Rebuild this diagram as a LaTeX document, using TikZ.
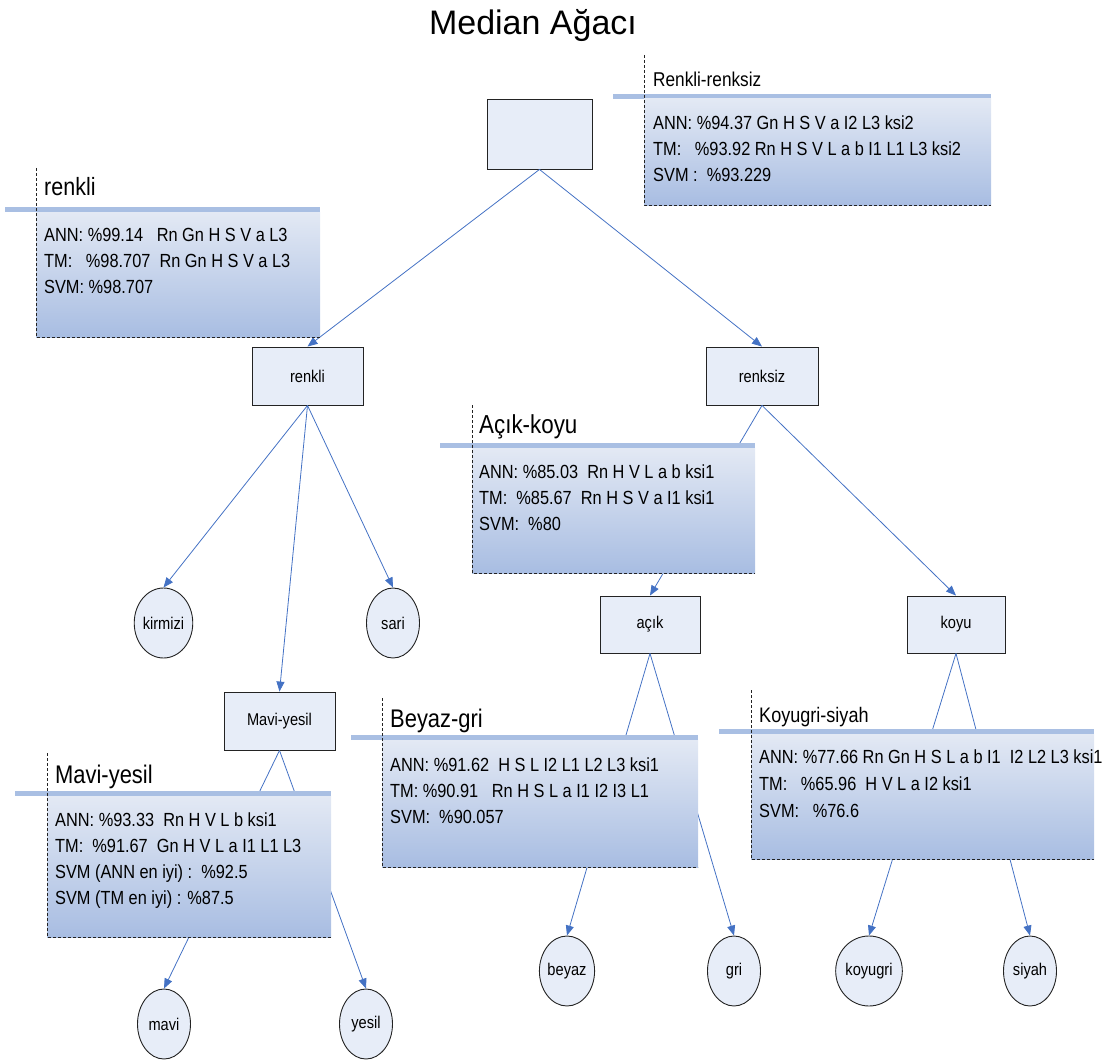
\documentclass[tikz,border=0pt]{standalone}
\usepackage{fontspec}
\setmainfont{Liberation Sans}[FakeStretch=0.86]
\newfontfamily\headfont{Liberation Sans}
\usetikzlibrary{arrows.meta,shapes.geometric}

\definecolor{linkblue}{RGB}{68,114,196}
\definecolor{boxfill}{RGB}{231,237,248}
\definecolor{boxline}{RGB}{35,35,35}
\definecolor{barblue}{RGB}{169,191,227}
\definecolor{shadetop}{RGB}{227,233,244}
\definecolor{shadebot}{RGB}{168,189,226}

% draws a callout panel: bar left, panel left, right, bar top, bottom, dash top
\newcommand\panelbox[6]{%
  \fill[barblue] (#1,#4) rectangle (#3,#4+5);
  \shade[top color=shadetop, bottom color=shadebot] (#2,#4+5) rectangle (#3,#5);
  \draw[panelrule] (#2,#6) -- (#2,#5) -- (#3,#5);
}

\begin{document}
\begin{tikzpicture}[x=1pt,y=-1pt,
  treebox/.style={draw=boxline, fill=boxfill, line width=0.9pt, rectangle,
    inner sep=0pt, font=\fontsize{17}{20}\selectfont},
  leaf/.style={draw=boxline, fill=boxfill, line width=0.9pt, ellipse,
    minimum width=53pt, minimum height=70pt, inner sep=0pt,
    font=\fontsize{17}{20}\selectfont},
  link/.style={draw=linkblue, line width=0.8pt,
    -{Triangle[length=10pt,width=8pt]}},
  panelrule/.style={draw=boxline, line width=0.9pt, dash pattern=on 3pt off 2pt},
  paneltitle/.style={anchor=base west, inner sep=0pt},
  panelline/.style={anchor=base west, inner sep=0pt,
    font=\fontsize{19}{23}\selectfont}]
\useasboundingbox (0,0) rectangle (1114,1062);

% tree nodes
\node[treebox, minimum width=105pt, minimum height=70pt] (root) at (539.5,134) {};
\node[treebox, minimum width=111pt, minimum height=58pt] (renkli) at (307.5,376) {renkli};
\node[treebox, minimum width=112pt, minimum height=58pt] (renksiz) at (762,376) {renksiz};
\node[treebox, minimum width=111pt, minimum height=58pt] (mavy) at (279.5,721) {Mavi-yesil};
\node[treebox, minimum width=100pt, minimum height=57pt] (acik) at (650,624.5) {açık};
\node[treebox, minimum width=98pt, minimum height=57pt] (koyu) at (956,624.5) {koyu};

\node[leaf] (kirmizi) at (163.5,623) {kirmizi};
\node[leaf] (sari) at (393,623) {sari};
\node[leaf] (mavi) at (164,1024) {mavi};
\node[leaf] (yesil) at (366,1024) {yesil};
\node[leaf] (beyaz) at (567,971) {beyaz};
\node[leaf] (gri) at (734,971) {gri};
\node[leaf] (koyugri) at (869,971) {koyugri};
\node[leaf] (siyah) at (1030,971) {siyah};

% connectors
\draw[link] (root.south) -- (renkli.north);
\draw[link] (root.south) -- (renksiz.north);
\draw[link] (renkli.south) -- (kirmizi.north);
\draw[link] (renkli.south) -- (mavy.north);
\draw[link] (renkli.south) -- (sari.north);
\draw[link] (renksiz.south) -- (acik.north);
\draw[link] (renksiz.south) -- (koyu.north);
\draw[link] (mavy.south) -- (mavi.north);
\draw[link] (mavy.south) -- (yesil.north);
\draw[link] (acik.south) -- (beyaz.north);
\draw[link] (acik.south) -- (gri.north);
\draw[link] (koyu.south) -- (koyugri.north);
\draw[link] (koyu.south) -- (siyah.north);

% result panels
\panelbox{5}{36}{320}{207}{337}{168}
\node[paneltitle, font=\fontsize{25}{28}\selectfont] (t1) at (44,196) {renkli};
\node[panelline] (p1a) at (44,241) {ANN: \%99.14~~~Rn Gn H S V a L3};
\node[panelline] (p1b) at (44,267) {TM:~~~\%98.707~~Rn Gn H S V a L3};
\node[panelline] (p1c) at (44,293) {SVM: \%98.707};

\panelbox{613}{644}{991}{94}{205}{55}
\node[paneltitle, font=\fontsize{20}{24}\selectfont] (t2) at (653,87) {Renkli-renksiz};
\node[panelline] (p2a) at (653,130) {ANN: \%94.37 Gn H S V a I2 L3 ksi2};
\node[panelline] (p2b) at (653,156) {TM:~~~\%93.92 Rn H S V L a b I1 L1 L3 ksi2};
\node[panelline] (p2c) at (653,182) {SVM :~~\%93.229};

\panelbox{440}{472}{755}{443}{573}{405}
\node[paneltitle, font=\fontsize{26}{30}\selectfont] (t3) at (479,433) {Açık-koyu};
\node[panelline] (p3a) at (479,478) {ANN: \%85.03~~Rn H V L a b ksi1};
\node[panelline] (p3b) at (479,504) {TM:~~\%85.67~~Rn H S V a I1 ksi1};
\node[panelline] (p3c) at (479,530) {SVM:~~\%80};

\panelbox{15}{47}{331}{791}{937}{753}
\node[paneltitle, font=\fontsize{25.5}{29}\selectfont] (t4) at (55,783) {Mavi-yesil};
\node[panelline] (p4a) at (55,826) {ANN: \%93.33~~Rn H V L b ksi1};
\node[panelline] (p4b) at (55,852) {TM:~~\%91.67~~Gn H V L a I1 L1 L3};
\node[panelline] (p4c) at (55,878) {SVM (ANN en iyi) :~~\%92.5};
\node[panelline] (p4d) at (55,904) {SVM (TM en iyi) : \%87.5};

\panelbox{351}{382}{698}{735}{867}{698}
\node[paneltitle, font=\fontsize{25.5}{29}\selectfont] (t5) at (390,727) {Beyaz-gri};
\node[panelline] (p5a) at (390,771) {ANN: \%91.62~~H S L I2 L1 L2 L3 ksi1};
\node[panelline] (p5b) at (390,797) {TM: \%90.91~~~Rn H S L a I1 I2 I3 L1};
\node[panelline] (p5c) at (390,823) {SVM:~~\%90.057};

\panelbox{719}{751}{1094}{729}{859}{690}
\node[paneltitle, font=\fontsize{21}{25}\selectfont] (t6) at (759,722) {Koyugri-siyah};
\node[panelline] (p6a) at (759,763) {ANN: \%77.66 Rn Gn H S L a b I1~~I2 L2 L3 ksi1};
\node[panelline] (p6b) at (759,790) {TM:~~~\%65.96~~H V L a I2 ksi1};
\node[panelline] (p6c) at (759,817) {SVM:~~~\%76.6};

% heading
\node[anchor=base, inner sep=0pt, font=\headfont\fontsize{34}{40}\selectfont] (head) at (533,35) {Median Ağacı};
\end{tikzpicture}
\end{document}
